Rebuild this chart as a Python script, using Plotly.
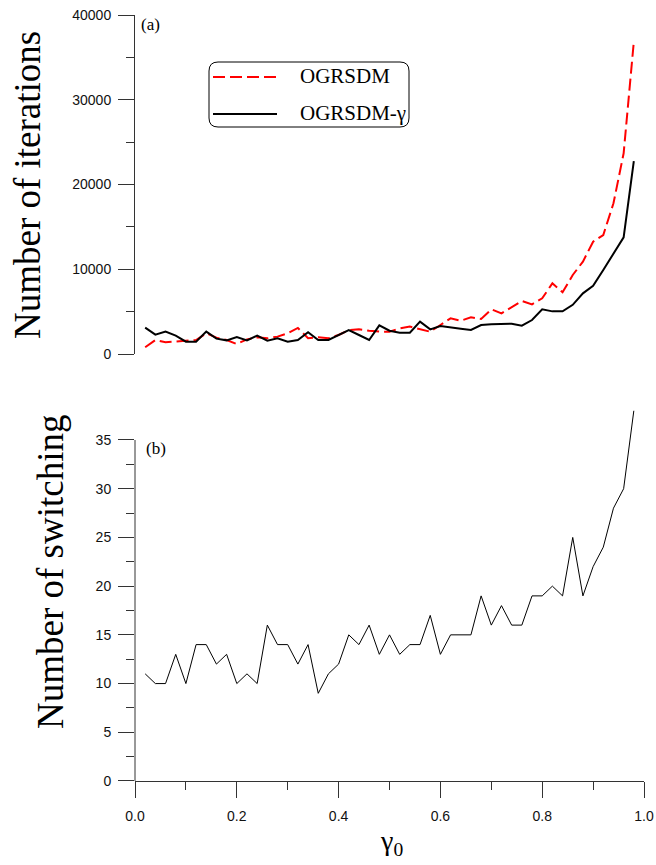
import plotly.graph_objects as go

# gamma_0 sample points
gamma0 = [0.02, 0.04, 0.06, 0.08, 0.10, 0.12, 0.14, 0.16, 0.18, 0.20,
          0.22, 0.24, 0.26, 0.28, 0.30, 0.32, 0.34, 0.36, 0.38, 0.40,
          0.42, 0.44, 0.46, 0.48, 0.50, 0.52, 0.54, 0.56, 0.58, 0.60,
          0.62, 0.64, 0.66, 0.68, 0.70, 0.72, 0.74, 0.76, 0.78, 0.80,
          0.82, 0.84, 0.86, 0.88, 0.90, 0.92, 0.94, 0.96, 0.98]

# (a) number of iterations
iters_ogrsdm = [790, 1650, 1380, 1450, 1570, 1650, 2440, 1930, 1650, 1180,
                1730, 1970, 1850, 2050, 2440, 3070, 1850, 1970, 1850, 2240,
                2830, 2910, 2750, 2640, 2630, 3030, 3230, 2950, 2630, 3420,
                4210, 3930, 4330, 4130, 5270, 4800, 5500, 6250, 5860, 6570,
                8340, 7280, 9320, 10900, 13250, 14040, 17780, 23680, 36850]
iters_ogrsdm_gamma = [3110, 2280, 2640, 2160, 1450, 1450, 2640, 1810, 1610, 2000,
                      1610, 2160, 1570, 1850, 1450, 1650, 2560, 1650, 1650, 2240,
                      2830, 2240, 1650, 3380, 2750, 2520, 2520, 3820, 2910, 3300,
                      3110, 2990, 2830, 3420, 3500, 3580, 3580, 3340, 4010, 5270,
                      5030, 5030, 5800, 7160, 8040, 9910, 11880, 13770, 22750]

# (b) number of switching
switching = [11, 10, 10, 13, 10, 14, 14, 12, 13, 10,
             11, 10, 16, 14, 14, 12, 14, 9, 11, 12,
             15, 14, 16, 13, 15, 13, 14, 14, 17, 13,
             15, 15, 15, 19, 16, 18, 16, 16, 19, 19,
             20, 19, 25, 19, 22, 24, 28, 30, 38]

iter_ticks = [0, 10000, 20000, 30000, 40000]
iter_minor = [5000, 15000, 25000, 35000]
switch_ticks = [0, 5, 10, 15, 20, 25, 30, 35]
switch_minor = [2.5, 7.5, 12.5, 17.5, 22.5, 27.5, 32.5]
x_ticks = [0.0, 0.2, 0.4, 0.6, 0.8, 1.0]
x_minor = [0.1, 0.3, 0.5, 0.7, 0.9]

W, H = 656, 865
ML, MR, MT, MB = 135, 12, 15, 84
PW, PH = W - ML - MR, H - MT - MB


def px(x):
    return (x - ML) / PW


def py(y):
    return (H - MB - y) / PH


SERIF = "Liberation Serif"
SANS = "Liberation Sans"
AX = "#333333"

fig = go.Figure()
fig.add_trace(go.Scatter(x=gamma0, y=iters_ogrsdm, mode="lines", name="OGRSDM",
                         line=dict(color="#ff0000", width=2, dash="12px,5px"),
                         xaxis="x", yaxis="y", showlegend=False))
fig.add_trace(go.Scatter(x=gamma0, y=iters_ogrsdm_gamma, mode="lines", name="OGRSDM-γ",
                         line=dict(color="#000000", width=2),
                         xaxis="x", yaxis="y", showlegend=False))
fig.add_trace(go.Scatter(x=gamma0, y=switching, mode="lines", name="switching",
                         line=dict(color="#000000", width=1),
                         xaxis="x2", yaxis="y2", showlegend=False))

tickfont = dict(family=SANS, size=14, color="#111111")

fig.update_layout(
    width=W, height=H, autosize=False, showlegend=False,
    margin=dict(l=ML, r=MR, t=MT, b=MB, autoexpand=False),
    paper_bgcolor="white", plot_bgcolor="white",
    xaxis=dict(domain=[0, 1], anchor="y", range=[0, 1], showgrid=False,
               zeroline=False, showline=False, showticklabels=False, ticks="",
               automargin=False),
    yaxis=dict(domain=[py(354), 1], anchor="x", range=[0, 40000], showgrid=False,
               zeroline=False, showline=True, linecolor=AX, linewidth=1,
               tickmode="array", tickvals=iter_ticks, tickformat="d",
               ticks="outside", ticklen=16, tickcolor=AX, tickfont=tickfont,
               ticklabelstandoff=4, automargin=False,
               minor=dict(tickvals=iter_minor, ticks="outside", ticklen=8,
                          tickcolor=AX)),
    xaxis2=dict(domain=[0, 1], anchor="y2", range=[0, 1], showgrid=False,
                zeroline=False, showline=True, linecolor=AX, linewidth=1,
                tickmode="array", tickvals=x_ticks, tickformat=".1f",
                ticks="outside", ticklen=16, tickcolor=AX, tickfont=tickfont,
                ticklabelstandoff=6, automargin=False,
                minor=dict(tickvals=x_minor, ticks="outside", ticklen=8,
                           tickcolor=AX)),
    yaxis2=dict(domain=[0, py(781 - 38.3 * (341 / 35))], anchor="x2",
                range=[0, 38.3], showgrid=False, zeroline=False, showline=False,
                tickmode="array", tickvals=switch_ticks, ticks="outside",
                ticklen=16, tickcolor=AX, tickfont=tickfont, ticklabelstandoff=4,
                automargin=False,
                minor=dict(tickvals=switch_minor, ticks="outside", ticklen=8,
                           tickcolor=AX)),
)

# left axis line of panel (b), drawn only up to 35
fig.add_shape(type="line", xref="paper", yref="y2", x0=0, x1=0, y0=0, y1=35,
              line=dict(color=AX, width=1))

# rounded legend box
bx0, bx1, by0, by1, r = 209, 409, 62, 127, 9
path = (f"M {px(bx0 + r)},{py(by0)} L {px(bx1 - r)},{py(by0)} "
        f"Q {px(bx1)},{py(by0)} {px(bx1)},{py(by0 + r)} "
        f"L {px(bx1)},{py(by1 - r)} Q {px(bx1)},{py(by1)} {px(bx1 - r)},{py(by1)} "
        f"L {px(bx0 + r)},{py(by1)} Q {px(bx0)},{py(by1)} {px(bx0)},{py(by1 - r)} "
        f"L {px(bx0)},{py(by0 + r)} Q {px(bx0)},{py(by0)} {px(bx0 + r)},{py(by0)} Z")
fig.add_shape(type="path", xref="paper", yref="paper", path=path,
              line=dict(color="#000000", width=1))
fig.add_shape(type="line", xref="paper", yref="paper",
              x0=px(213), x1=px(277), y0=py(77), y1=py(77),
              line=dict(color="#ff0000", width=2, dash="12px,5px"))
fig.add_shape(type="line", xref="paper", yref="paper",
              x0=px(213), x1=px(277), y0=py(114), y1=py(114),
              line=dict(color="#000000", width=2))

ann = []
ann.append(dict(text="OGRSDM", x=px(298), y=py(76), xanchor="left", yanchor="middle",
                font=dict(family=SERIF, size=21, color="#000")))
ann.append(dict(text="OGRSDM-γ", x=px(298), y=py(113), xanchor="left", yanchor="middle",
                font=dict(family=SERIF, size=21, color="#000")))
ann.append(dict(text="(a)", x=px(139), y=py(25), xanchor="left", yanchor="middle",
                font=dict(family=SERIF, size=17, color="#000")))
ann.append(dict(text="(b)", x=px(144), y=py(448), xanchor="left", yanchor="middle",
                font=dict(family=SERIF, size=17, color="#000")))
ann.append(dict(text="Number of iterations", x=px(27), y=py(185), textangle=-90,
                xanchor="center", yanchor="middle",
                font=dict(family=SERIF, size=37, color="#000")))
ann.append(dict(text="Number of switching", x=px(50), y=py(572), textangle=-90,
                xanchor="center", yanchor="middle",
                font=dict(family=SERIF, size=37, color="#000")))
ann.append(dict(text="γ<sub>0</sub>", x=px(391), y=py(842), xanchor="center",
                yanchor="middle", font=dict(family=SERIF, size=28, color="#000")))
for a in ann:
    a.update(xref="paper", yref="paper", showarrow=False)
fig.update_layout(annotations=ann)

fig.write_html("out.html")
